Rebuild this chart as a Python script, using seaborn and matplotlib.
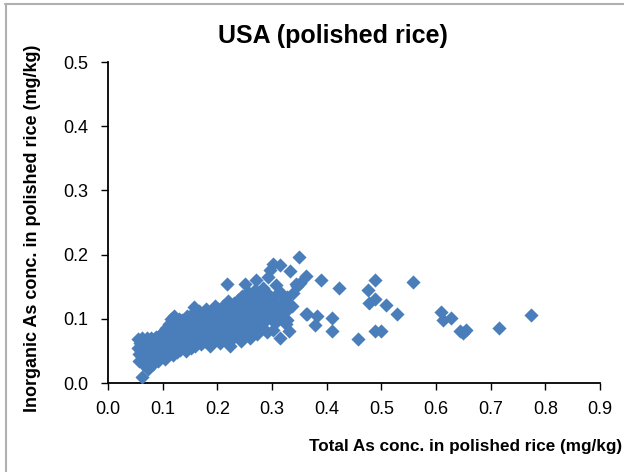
import matplotlib
matplotlib.use("Agg")
import matplotlib.pyplot as plt
from matplotlib.lines import Line2D
import seaborn as sns
import pandas as pd

# Total As (x) and inorganic As (y) concentrations, mg/kg
total_as = [
    0.055, 0.055, 0.056, 0.057, 0.058, 0.060, 0.062, 0.062, 0.063, 0.064, 0.065, 0.066,
    0.068, 0.069, 0.070, 0.071, 0.072, 0.074, 0.075, 0.076, 0.077, 0.078, 0.079, 0.080,
    0.082, 0.083, 0.084, 0.085, 0.087, 0.088, 0.089, 0.090, 0.091, 0.092, 0.094, 0.095,
    0.096, 0.097, 0.098, 0.100, 0.101, 0.102, 0.103, 0.104, 0.105, 0.106, 0.107, 0.108,
    0.109, 0.110,
    0.111, 0.112, 0.113, 0.114, 0.115, 0.116, 0.117, 0.118, 0.119, 0.120, 0.121, 0.122,
    0.123, 0.124, 0.125, 0.126, 0.127, 0.128, 0.129, 0.130, 0.131, 0.132, 0.133, 0.134,
    0.135, 0.136, 0.137, 0.138, 0.139, 0.140,
    0.141, 0.142, 0.143, 0.144, 0.145, 0.146, 0.147, 0.148, 0.149, 0.150, 0.151, 0.152,
    0.153, 0.154, 0.155, 0.156, 0.157, 0.158, 0.159, 0.160, 0.161, 0.162, 0.163, 0.164,
    0.165, 0.166, 0.167, 0.168, 0.169, 0.170,
    0.171, 0.172, 0.173, 0.174, 0.175, 0.176, 0.177, 0.178, 0.179, 0.180, 0.181, 0.182,
    0.183, 0.184, 0.185, 0.186, 0.187, 0.188, 0.189, 0.190, 0.191, 0.192, 0.193, 0.194,
    0.195, 0.196, 0.197, 0.198, 0.199, 0.200,
    0.201, 0.202, 0.203, 0.204, 0.205, 0.206, 0.207, 0.208, 0.209, 0.210, 0.211, 0.212,
    0.213, 0.214, 0.215, 0.216, 0.217, 0.218, 0.219, 0.220, 0.221, 0.222, 0.223, 0.224,
    0.225, 0.226, 0.227, 0.228, 0.229, 0.230,
    0.231, 0.232, 0.233, 0.234, 0.235, 0.236, 0.237, 0.238, 0.239, 0.240, 0.241, 0.242,
    0.243, 0.244, 0.245, 0.246, 0.247, 0.248, 0.249, 0.250, 0.251, 0.252, 0.253, 0.254,
    0.255, 0.257, 0.258, 0.259, 0.260,
    0.262, 0.263, 0.264, 0.265, 0.266, 0.268, 0.269, 0.270, 0.271, 0.272, 0.273, 0.274,
    0.276, 0.277, 0.278, 0.279, 0.280, 0.282, 0.283, 0.284, 0.286, 0.287, 0.288, 0.290,
    0.291, 0.293, 0.294, 0.296, 0.296, 0.298,
    0.301, 0.301, 0.303, 0.305, 0.307, 0.308, 0.310, 0.312, 0.315, 0.315, 0.315, 0.317,
    0.320, 0.323, 0.325, 0.327, 0.328, 0.328, 0.332, 0.333, 0.336, 0.339, 0.344, 0.345,
    0.350, 0.351, 0.362,
    0.363, 0.364, 0.379, 0.383, 0.390, 0.410, 0.410, 0.422, 0.457, 0.475, 0.477, 0.488,
    0.488, 0.489, 0.499, 0.508, 0.528, 0.558, 0.610, 0.612, 0.628, 0.643, 0.649, 0.654,
    0.715, 0.773,
]
inorganic_as = [
    0.068, 0.055, 0.045, 0.035, 0.062, 0.050, 0.010, 0.040, 0.070, 0.030, 0.058, 0.047,
    0.066, 0.038, 0.055, 0.070, 0.045, 0.022, 0.062, 0.035, 0.052, 0.070, 0.042, 0.060,
    0.048, 0.030, 0.068, 0.056, 0.040, 0.072, 0.062, 0.050, 0.035, 0.068, 0.058, 0.045,
    0.075, 0.040, 0.065, 0.055, 0.080, 0.048, 0.070, 0.060, 0.038, 0.085, 0.052, 0.075,
    0.065, 0.045,
    0.092, 0.058, 0.070, 0.050, 0.080, 0.100, 0.062, 0.043, 0.088, 0.072, 0.105, 0.055,
    0.065, 0.095, 0.078, 0.048, 0.085, 0.060, 0.100, 0.070, 0.052, 0.090, 0.080, 0.062,
    0.098, 0.075, 0.056, 0.088, 0.066, 0.082,
    0.058, 0.095, 0.050, 0.078, 0.104, 0.068, 0.088, 0.060, 0.098, 0.080, 0.055, 0.072,
    0.092, 0.108, 0.065, 0.085, 0.119, 0.075, 0.058, 0.095, 0.070, 0.088, 0.062, 0.102,
    0.080, 0.112, 0.068, 0.092, 0.075, 0.085,
    0.060, 0.098, 0.078, 0.108, 0.070, 0.090, 0.065, 0.100, 0.082, 0.115, 0.074, 0.094,
    0.068, 0.086, 0.105, 0.078, 0.057, 0.096, 0.088, 0.112, 0.072, 0.100, 0.083, 0.066,
    0.120, 0.092, 0.078, 0.106, 0.086, 0.070,
    0.098, 0.115, 0.080, 0.092, 0.062, 0.108, 0.088, 0.075, 0.102, 0.095, 0.120, 0.083,
    0.110, 0.070, 0.100, 0.090, 0.154, 0.112, 0.078, 0.128, 0.095, 0.104, 0.057, 0.086,
    0.118, 0.100, 0.068, 0.092, 0.110, 0.080,
    0.125, 0.098, 0.105, 0.088, 0.115, 0.074, 0.130, 0.094, 0.108, 0.082, 0.120, 0.100,
    0.066, 0.112, 0.090, 0.135, 0.104, 0.078, 0.118, 0.154, 0.096, 0.110, 0.086, 0.126,
    0.100, 0.142, 0.114, 0.070, 0.092,
    0.122, 0.104, 0.084, 0.132, 0.112, 0.096, 0.145, 0.118, 0.160, 0.076, 0.108, 0.128,
    0.100, 0.138, 0.088, 0.115, 0.125, 0.105, 0.148, 0.094, 0.120, 0.132, 0.110, 0.080,
    0.140, 0.165, 0.118, 0.176, 0.129, 0.100,
    0.186, 0.083, 0.112, 0.135, 0.153, 0.095, 0.122, 0.105, 0.184, 0.121, 0.070, 0.140,
    0.110, 0.130, 0.092, 0.113, 0.098, 0.134, 0.081, 0.175, 0.120, 0.140, 0.154, 0.151,
    0.197, 0.156, 0.108,
    0.167, 0.107, 0.090, 0.104, 0.160, 0.101, 0.081, 0.148, 0.069, 0.145, 0.124, 0.161,
    0.081, 0.131, 0.081, 0.121, 0.107, 0.158, 0.111, 0.098, 0.102, 0.081, 0.078, 0.083,
    0.085, 0.106,
]

title = "USA (polished rice)"
x_label = "Total As conc. in polished rice (mg/kg)"
y_label = "Inorganic As conc. in polished rice (mg/kg)"
x_ticks = [0.0, 0.1, 0.2, 0.3, 0.4, 0.5, 0.6, 0.7, 0.8, 0.9]
y_ticks = [0.0, 0.1, 0.2, 0.3, 0.4, 0.5]

sns.set_theme(style="white")
plt.rcParams["font.family"] = ["Liberation Sans", "DejaVu Sans"]

df = pd.DataFrame({"total": total_as, "inorganic": inorganic_as})

fig = plt.figure(figsize=(6.24, 4.72), dpi=100)
ax = fig.add_axes([108 / 624, 89 / 472, 492 / 624, 321 / 472])

sns.scatterplot(data=df, x="total", y="inorganic", marker="D", s=52,
                color="#4A7EBB", linewidth=0, ax=ax, zorder=3)

ax.set_xlim(0, 0.9)
ax.set_ylim(0, 0.5)
ax.set_xticks(x_ticks)
ax.set_yticks(y_ticks)
ax.set_xticklabels([f"{v:.1f}" for v in x_ticks], fontsize=13)
ax.set_yticklabels([f"{v:.1f}" for v in y_ticks], fontsize=13)
ax.tick_params(axis="both", direction="out", length=5, width=1, color="black",
               bottom=True, left=True, labelcolor="black")
ax.tick_params(axis="x", pad=8)
ax.tick_params(axis="y", pad=9)
ax.set_xlabel("")
ax.set_ylabel("")
for side in ["top", "right"]:
    ax.spines[side].set_visible(False)
for side in ["left", "bottom"]:
    ax.spines[side].set_color("black")
    ax.spines[side].set_linewidth(1.3)
ax.grid(False)

fig.text(333 / 624, 1 - 36 / 472, title, ha="center", va="center",
         fontsize=18, fontweight="bold", color="black")
fig.text(622 / 624, 1 - 447 / 472, x_label, ha="right", va="center",
         fontsize=12.3, fontweight="bold", color="black")
fig.text(33 / 624, 1 - 228 / 472, y_label, ha="center", va="center",
         rotation=90, fontsize=13, fontweight="bold", color="black")

fig.add_artist(Line2D([5 / 624, 1.0], [1 - 4 / 472, 1 - 4 / 472],
                      transform=fig.transFigure, color="#B0B0B0", linewidth=1.5))
fig.add_artist(Line2D([6 / 624, 6 / 624], [0.0, 1 - 4 / 472],
                      transform=fig.transFigure, color="#B0B0B0", linewidth=1.5))

fig.savefig("out.png", dpi=100)
